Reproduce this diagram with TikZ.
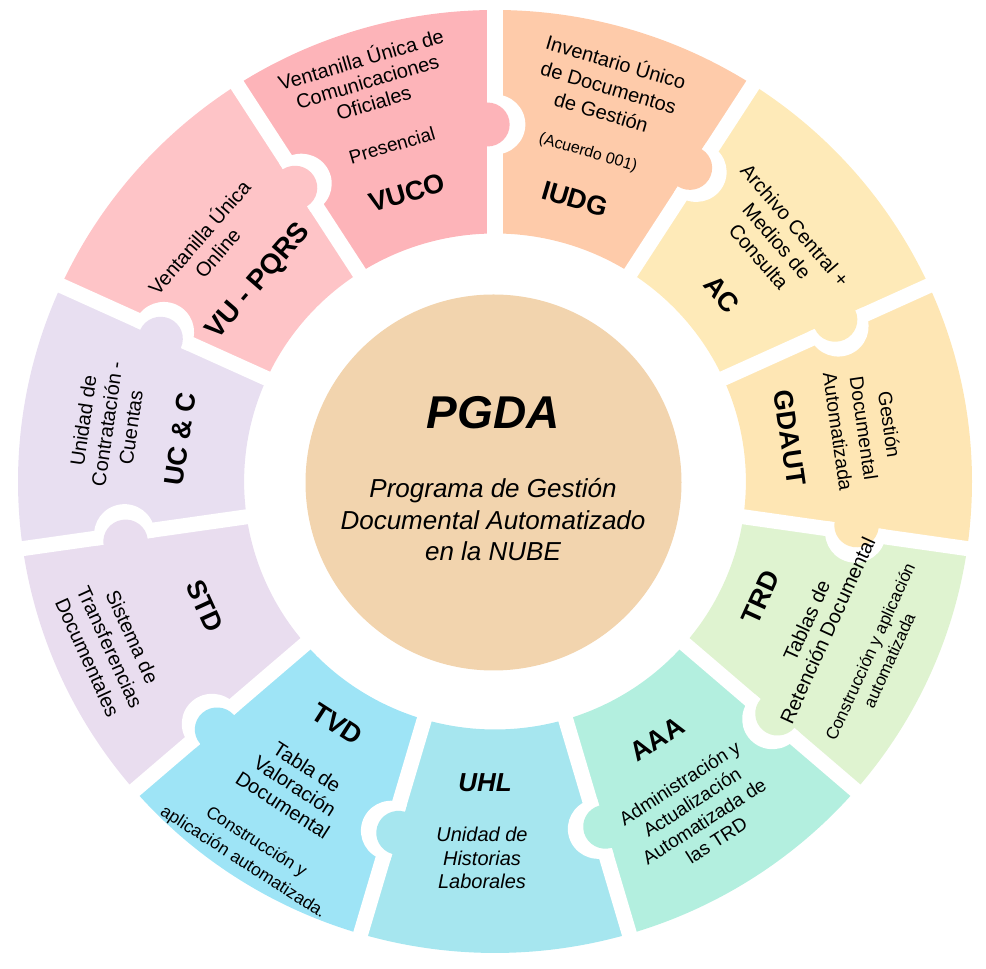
\documentclass[tikz,border=0pt]{standalone}
\usepackage{fontspec}
\setmainfont{Liberation Sans}
\definecolor{cVUCO}{HTML}{FDB4B9}
\definecolor{cVUP}{HTML}{FEC4C7}
\definecolor{cIUDG}{HTML}{FECBAA}
\definecolor{cAC}{HTML}{FEEAB8}
\definecolor{cGDAUT}{HTML}{FEE6B4}
\definecolor{cTRD}{HTML}{DFF3D0}
\definecolor{cAAA}{HTML}{B3EFDF}
\definecolor{cUHL}{HTML}{A6E6EF}
\definecolor{cTVD}{HTML}{9EE4F6}
\definecolor{cSTD}{HTML}{E9DDEF}
\definecolor{cUCC}{HTML}{E8DFF1}
\definecolor{cCen}{HTML}{F2D4AE}
\tikzset{
  lbl/.style={font=\bfseries\fontsize{27}{30}\selectfont, inner sep=0pt},
  txt/.style={align=center, inner sep=0pt},
}
\begin{document}
\begin{tikzpicture}[x=1pt,y=1pt]
\useasboundingbox (0,0) rectangle (986,969);
\def\al{32.7272727}
\begin{scope}[shift={(495,487.5)}, xscale=1.0117]
  \foreach \c [count=\k from 0] in {cIUDG,cAC,cGDAUT,cTRD,cAAA,cUHL,cTVD,cSTD,cUCC,cVUP,cVUCO}{
    \pgfmathsetmacro\aa{90-(\k+1)*\al}
    \pgfmathsetmacro\bb{90-\k*\al}
    \fill[\c] (\aa:248) arc[start angle=\aa,end angle=\bb,radius=248] -- (\bb:471.5) arc[start angle=\bb,end angle=\aa,radius=471.5] -- cycle;
  }
  \foreach \c/\R [count=\k from 1] in {cIUDG/368,cAC/373,cGDAUT/360,cTRD/363,cAAA/362,cUHL/364,cTVD/370,cSTD/370,cUCC/360,cVUP/354,cVUCO/357}{
    \pgfmathsetmacro\ph{90-\k*\al}
    \begin{scope}[rotate=\ph]
      \fill[white] (230,-7.5) rectangle (490,7.5);
      \begin{scope}
        \clip (200,7.5) rectangle (500,-60);
        \fill[white] (\R,0) circle[radius=30];
      \end{scope}
      \fill[\c] (\R,7.5) circle[radius=22];
    \end{scope}
  }
\end{scope}

\node[circle, fill=cCen, minimum size=376, inner sep=0pt] (core) at (493.5,486.5) {};
\node[txt, font=\bfseries\itshape\fontsize{46}{50}\selectfont] (pgda) at (493,556) {PGDA};
\node[txt, font=\itshape\fontsize{26}{31.5}\selectfont] (pgdat) at (493,449) {Programa de Gestión\\Documental Automatizado\\en la NUBE};

% VUCO
\node[lbl, rotate=16.4] (vuco) at (407,776) {VUCO};
\node[txt, rotate=16.4, font=\fontsize{20}{22.5}\selectfont] (vucot) at (367,889) {Ventanilla Única de\\Comunicaciones\\Oficiales};
\node[txt, rotate=16.4, font=\fontsize{19}{22}\selectfont] (vucop) at (392,824) {Presencial};

% IUDG
\node[lbl, rotate=-16.4] (iudg) at (575,770) {IUDG};
\node[txt, rotate=-16.4, font=\fontsize{20}{26}\selectfont] (iudgt) at (609,883) {Inventario Único\\de Documentos\\de Gestión};
\node[txt, rotate=-16.4, font=\fontsize{16}{19}\selectfont] (iudga) at (588,816) {(Acuerdo 001)};

% AC
\node[lbl, rotate=-49.1] (ac) at (722,675) {AC};
\node[txt, rotate=-49.1, font=\fontsize{20}{24}\selectfont] (act) at (777,728) {Archivo Central +\\Medios de\\Consulta};

% GDAUT
\node[lbl, rotate=-81.8] (gd) at (790,531) {GDAUT};
\node[txt, rotate=-81.8, font=\fontsize{19.5}{26}\selectfont] (gdt) at (864,541) {Gestión\\Documental\\Automatizada};

% TRD
\node[lbl, rotate=65.5] (trd) at (761,372) {TRD};
\node[txt, rotate=65.5, font=\fontsize{20}{23}\selectfont] (trdt) at (817,343.5) {Tablas de\\Retención Documental};
\node[txt, rotate=65.5, font=\fontsize{17}{21}\selectfont] (trdc) at (879.5,313) {Construcción y aplicación\\automatizada};

% AAA
\node[lbl, rotate=32.7] (aaa) at (657,230) {AAA};
\node[txt, rotate=32.7, font=\fontsize{19}{22.7}\selectfont] (aaat) at (698,157.5) {Administración y\\Actualización\\Automatizada de\\las TRD};

% UHL
\node[lbl, font=\bfseries\itshape\fontsize{26}{30}\selectfont] (uhl) at (485,186) {UHL};
\node[txt, font=\itshape\fontsize{20}{23.5}\selectfont] (uhlt) at (482,111) {Unidad de\\Historias\\Laborales};

% TVD
\node[lbl, rotate=-32.7] (tvd) at (337,245) {TVD};
\node[txt, rotate=-32.7, font=\fontsize{20}{22.5}\selectfont] (tvdt) at (295,183) {Tabla de\\Valoración\\Documental};
\node[txt, rotate=-32.7, font=\fontsize{17.5}{24}\selectfont] (tvdc) at (249.5,116.5) {Construcción y\\aplicación automatizada.};

% STD
\node[lbl, rotate=-65.5] (std) at (205,363) {STD};
\node[txt, rotate=-65.5, font=\fontsize{20}{24.7}\selectfont] (stdt) at (110,322) {Sistema de\\Transferencias\\Documentales};

% UC & C
\node[lbl, rotate=81.8] (ucc) at (180,530) {UC \& C};
\node[txt, rotate=81.8, font=\fontsize{20}{24}\selectfont] (ucct) at (107,545) {Unidad de\\Contratación -\\Cuentas};

% VU - PQRS
\node[lbl, rotate=49.1, font=\bfseries\fontsize{28}{30}\selectfont] (vup) at (259,687) {VU - PQRS};
\node[txt, rotate=49.1, font=\fontsize{20}{24}\selectfont] (vupt) at (207.5,724.5) {Ventanilla Única\\Online};
\end{tikzpicture}
\end{document}
